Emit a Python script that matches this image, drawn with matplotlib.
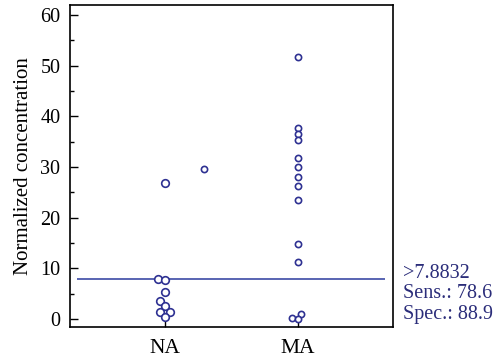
import numpy as np
import matplotlib
matplotlib.use("Agg")
import matplotlib.pyplot as plt
from matplotlib.ticker import MultipleLocator

# data
groups = ["NA", "MA"]
na_values = [26.8, 7.88, 7.6, 5.4, 3.6, 2.5, 1.3, 1.3, 0.35]
ma_values = [51.8, 37.8, 36.6, 35.4, 31.8, 30.0, 28.0, 26.2, 23.4, 14.7, 11.3, 0.9, 0.15, 0.0]
extra_value = 29.7          # lone point drawn between the groups
criterion = 7.8832
notes = [">7.8832", "Sens.: 78.6", "Spec.: 88.9"]

navy = "#2e3192"
plt.rcParams["font.family"] = ["Liberation Serif", "DejaVu Serif"]

fig = plt.figure(figsize=(4.96, 3.6), dpi=100)
ax = fig.add_axes([0.1411, 0.0917, 0.6512, 0.8944])
ax.set_xlim(-0.717, 1.72)
ax.set_ylim(-1.6, 62)


def swarm(x0, vals, diam):
    # simple beeswarm in pixel space, returns x data positions
    pts = ax.transData.transform(np.column_stack([np.full(len(vals), x0), vals]))
    cx = pts[0, 0]
    order = np.argsort(vals)
    placed = []
    xs = np.zeros(len(vals))
    for i in order:
        y = pts[i, 1]
        cands = [cx]
        for px, py in placed:
            dy = abs(py - y)
            if dy < diam:
                dx = np.sqrt(diam ** 2 - dy ** 2)
                cands += [px + dx, px - dx]
        cands.sort(key=lambda c: (abs(c - cx), c))
        for c in cands:
            if all((c - px) ** 2 + (y - py) ** 2 >= diam ** 2 - 1e-6 for px, py in placed):
                xs[i] = c
                placed.append((c, y))
                break
    back = ax.transData.inverted().transform(np.column_stack([xs, pts[:, 1]]))
    return back[:, 0]


na_x = swarm(0, np.array(na_values), 7.2)
ma_x = swarm(1, np.array(ma_values), 5.6)

ax.scatter(na_x, na_values, s=30, facecolors="white", edgecolors=navy, linewidths=1.2, zorder=3)
ax.scatter(ma_x, ma_values, s=20, facecolors="white", edgecolors=navy, linewidths=1.2, zorder=3)
ax.scatter([0.294], [extra_value], s=20, facecolors="white", edgecolors=navy, linewidths=1.2, zorder=3)

ax.hlines(criterion, -0.664, 1.66, color="#2b3a9e", lw=1.1, zorder=2)

ax.set_xticks([0, 1])
ax.set_xticklabels(groups, fontsize=15.5)
ax.yaxis.set_major_locator(MultipleLocator(10))
ax.yaxis.set_minor_locator(MultipleLocator(5))
ax.tick_params(axis="y", which="major", direction="in", length=5.5, width=1, labelsize=14.5, pad=7)
ax.tick_params(axis="y", which="minor", direction="in", length=3, width=1)
ax.tick_params(axis="x", direction="in", length=4, width=1, pad=9)
ax.set_ylabel("Normalized concentration", fontsize=15, labelpad=5)
for s in ax.spines.values():
    s.set_linewidth(1.2)

for i, t in enumerate(notes):
    fig.text(403 / 496, 1 - (274 + 20 * i) / 360, t, color="#2b2d7a",
             fontsize=14.5, ha="left", va="center")

fig.savefig("out.png", dpi=100)
